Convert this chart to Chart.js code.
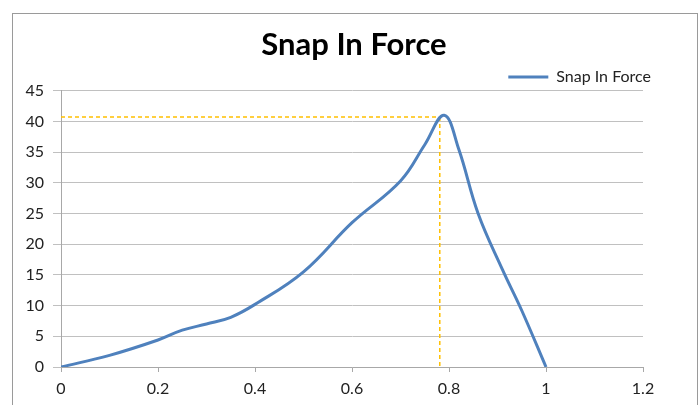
<!DOCTYPE html>
<html><head><meta charset="utf-8">
<script src="https://cdn.jsdelivr.net/npm/chart.js@4"></script>
<style>
html,body{margin:0;padding:0;background:#fff;overflow:hidden;}
#wrap{position:absolute;left:0;top:0;width:699px;height:405px;}
#frame{position:absolute;left:12px;top:13px;width:686px;height:400px;border:1px solid #9a9a9a;box-sizing:border-box;}
canvas{position:absolute;left:0;top:0;}
</style></head><body>
<div id="wrap"><div id="frame"></div><canvas id="c" width="699" height="405" style="width:699px;height:405px"></canvas></div>
<script>
const chartTitle = 'Snap In Force';
const seriesName = 'Snap In Force';
const displacement = [0, 0.1, 0.2, 0.25, 0.3, 0.35, 0.4, 0.5, 0.6, 0.7, 0.75, 0.79, 0.82, 0.86, 0.91, 0.95, 1.0];
const force =        [0, 1.9, 4.4, 6.0, 7.0, 8.1, 10.2, 15.5, 23.5, 30.3, 36.2, 41.0, 35.5, 25.0, 15.9, 9.2, 0];
const xTickLabels = ['0', '0.2', '0.4', '0.6', '0.8', '1', '1.2'];
const yTickLabels = ['0', '5', '10', '15', '20', '25', '30', '35', '40', '45'];
const markerX = 0.781;
const markerY = 40.7;

const points = displacement.map((x, i) => ({x: x, y: force[i]}));

const markerPlugin = {
  id: 'marker',
  beforeDatasetsDraw(chart) {
    const {ctx, chartArea, scales} = chart;
    const px = scales.x.getPixelForValue(markerX);
    const py = scales.y.getPixelForValue(markerY);
    ctx.save();
    ctx.strokeStyle = '#FFC000';
    ctx.lineWidth = 1.5;
    ctx.setLineDash([4, 3]);
    ctx.beginPath();
    ctx.moveTo(chartArea.left, py);
    ctx.lineTo(px, py);
    ctx.moveTo(px, py);
    ctx.lineTo(px, chartArea.bottom);
    ctx.stroke();
    ctx.restore();
  }
};

// place title over the plot area and nudge the legend like the original
const placePlugin = {
  id: 'place',
  afterLayout(chart) {
    const t = chart.titleBlock, l = chart.legend, a = chart.chartArea;
    if (t) { t.left = a.left; t.right = a.right + 4; t.width = t.right - t.left; }
    if (l) { l.top += 4.3; l.bottom += 4.3; l.left += 9; l.right += 9; }
  }
};

new Chart(document.getElementById('c'), {
  type: 'scatter',
  data: {
    datasets: [{
      label: seriesName,
      data: points,
      showLine: true,
      borderColor: '#4F81BD',
      backgroundColor: '#4F81BD',
      borderWidth: 3,
      pointRadius: 0,
      tension: 0.4,
      fill: false
    }]
  },
  options: {
    responsive: false,
    animation: false,
    layout: {padding: {left: 10, right: 56, top: 0, bottom: 0}},
    plugins: {
      title: {
        display: true,
        text: chartTitle,
        color: '#000',
        font: {family: 'Lato', size: 31, weight: 'bold'},
        padding: {top: 26.5, bottom: 0}
      },
      legend: {
        display: true,
        position: 'top',
        align: 'end',
        labels: {
          usePointStyle: true,
          pointStyle: 'line',
          pointStyleWidth: 40,
          color: '#222',
          font: {family: 'Lato', size: 16},
          padding: 1
        }
      },
      tooltip: {enabled: false}
    },
    scales: {
      x: {
        type: 'linear',
        min: 0, max: 1.2,
        afterFit(s) { s.height = 38; },
        afterBuildTicks(s) { s.ticks = xTickLabels.map(t => ({value: parseFloat(t)})); },
        ticks: {
          callback: (v, i) => xTickLabels[i],
          color: '#222',
          font: {family: 'Lato', size: 16},
          padding: 7
        },
        grid: {display: true, drawOnChartArea: false, drawTicks: true, tickLength: 5, color: '#a8a8a8'},
        border: {display: true, color: '#a8a8a8'}
      },
      y: {
        min: 0, max: 45,
        afterFit(s) { s.width = 51; },
        afterBuildTicks(s) { s.ticks = yTickLabels.map(t => ({value: parseFloat(t)})); },
        ticks: {
          callback: (v, i) => yTickLabels[i],
          color: '#222',
          font: {family: 'Lato', size: 16},
          padding: 9
        },
        grid: {color: '#c0c0c0', drawTicks: true, tickLength: 8, lineWidth: 1},
        border: {display: true, color: '#a8a8a8'}
      }
    }
  },
  plugins: [markerPlugin, placePlugin]
});
</script>
</body></html>
